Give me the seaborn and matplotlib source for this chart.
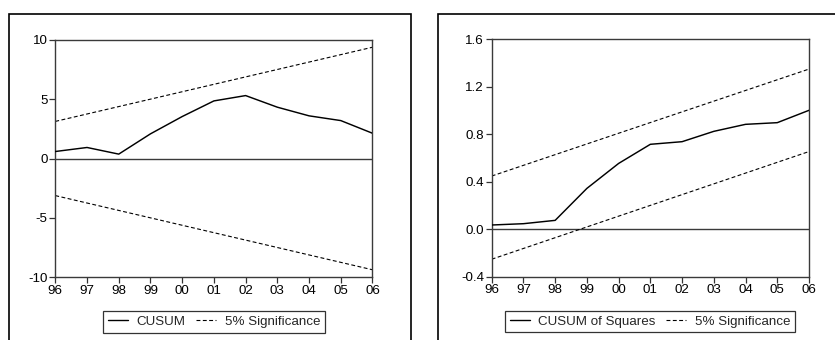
import matplotlib
matplotlib.use("Agg")
import matplotlib.pyplot as plt
from matplotlib.patches import Rectangle
from matplotlib.lines import Line2D
import seaborn as sns
import pandas as pd

sns.set_theme(style="white")
plt.rcParams["font.family"] = ["Liberation Sans", "DejaVu Sans"]

# Years (two-digit labels) and recursive-residual stability statistics
years = ["96", "97", "98", "99", "00", "01", "02", "03", "04", "05", "06"]
cusum = [0.59, 0.93, 0.37, 2.08, 3.54, 4.86, 5.31, 4.33, 3.60, 3.20, 2.13]
cusum_sq = [0.035, 0.046, 0.074, 0.343, 0.553, 0.714, 0.736, 0.823, 0.882, 0.896, 1.0]

# 5% significance bounds: straight lines given by their start and end values
cusum_upper = [3.13, 9.39]
cusum_lower = [-3.13, -9.39]
sq_upper = [0.447, 1.347]
sq_lower = [-0.253, 0.653]

cusum_ticks = [-10, -5, 0, 5, 10]
cusum_ticklabels = ["-10", "-5", "0", "5", "10"]
sq_ticks = [-0.4, 0.0, 0.4, 0.8, 1.2, 1.6]
sq_ticklabels = ["-0.4", "0.0", "0.4", "0.8", "1.2", "1.6"]

W, H = 835, 340
fig = plt.figure(figsize=(W / 100, H / 100), dpi=100)
fig.patch.set_facecolor("white")

FS = 9.6
DASH = (3.5, 2.2)


def fx(px):
    return px / W


def fy(py):
    return 1 - py / H


def panel(rect, stat, upper, lower, ticks, ticklabels, ylim, stat_label, legend_center):
    ax = fig.add_axes(rect)
    n = len(years)
    idx = list(range(n))
    df = pd.DataFrame({"t": idx, "value": stat})
    bounds = pd.DataFrame({"t": [0, n - 1], "upper": upper, "lower": lower})

    ax.axhline(0, color="#3a3a3a", lw=1.0, zorder=1)
    sns.lineplot(data=df, x="t", y="value", ax=ax, color="black", lw=1.05, zorder=3)
    sns.lineplot(data=bounds, x="t", y="upper", ax=ax, color="black", lw=0.8,
                 dashes=False, zorder=2).lines[-1].set_dashes(DASH)
    sns.lineplot(data=bounds, x="t", y="lower", ax=ax, color="black", lw=0.8,
                 dashes=False, zorder=2).lines[-1].set_dashes(DASH)

    ax.set_xlim(0, n - 1)
    ax.set_ylim(*ylim)
    ax.set_xticks(idx)
    ax.set_xticklabels(years)
    ax.set_yticks(ticks)
    ax.set_yticklabels(ticklabels)
    ax.set_xlabel("")
    ax.set_ylabel("")
    ax.tick_params(axis="both", direction="out", length=4, width=0.9,
                   color="#333333", labelsize=FS, labelcolor="black", pad=1.5,
                   left=True, bottom=True)
    for s in ax.spines.values():
        s.set_color("#3a3a3a")
        s.set_linewidth(1.0)
        s.set_visible(True)
    ax.grid(False)
    ax.set_facecolor("white")

    handles = [Line2D([], [], color="black", lw=1.0),
               Line2D([], [], color="black", lw=0.8, dashes=DASH)]
    leg = fig.legend(handles, [stat_label, "5% Significance"], loc="center",
                     bbox_to_anchor=legend_center, ncol=2, fontsize=FS,
                     frameon=True, fancybox=False, handlelength=1.5,
                     handletextpad=0.65, columnspacing=0.8, borderpad=0.35,
                     borderaxespad=0)
    fr = leg.get_frame()
    fr.set_edgecolor("black")
    fr.set_linewidth(0.9)
    return ax


panel([fx(55.3), fy(277), fx(372.5 - 55.3), (277 - 40) / H],
      cusum, cusum_upper, cusum_lower, cusum_ticks, cusum_ticklabels,
      (-10, 10), "CUSUM", (fx(214), fy(322)))

panel([fx(491.7), fy(276.7), fx(809 - 491.7), (276.7 - 39) / H],
      cusum_sq, sq_upper, sq_lower, sq_ticks, sq_ticklabels,
      (-0.4, 1.6), "CUSUM of Squares", (fx(650), fy(321.5)))

# Outer frames around each panel (they continue past the bottom/right edge)
fig.patches.append(Rectangle((fx(9), fy(345)), fx(411 - 9), (345 - 14) / H,
                             transform=fig.transFigure, fill=False,
                             edgecolor="black", lw=1.2))
fig.patches.append(Rectangle((fx(438), fy(345)), fx(845 - 438), (345 - 13.5) / H,
                             transform=fig.transFigure, fill=False,
                             edgecolor="black", lw=1.2))

fig.savefig("out.png", dpi=100, facecolor="white")
